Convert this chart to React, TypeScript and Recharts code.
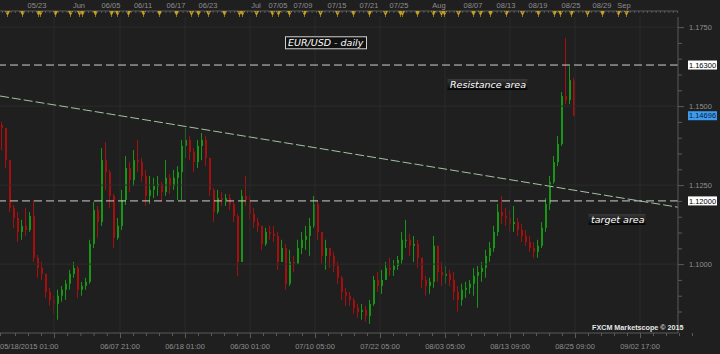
import React from 'react';
import { ComposedChart, Bar, XAxis, YAxis, ReferenceLine, ReferenceDot } from 'recharts';

// EUR/USD candles 05/18 -> 08/25/2015 (one candle per ~4px)
const highs = [
  1.1450, 1.1431, 1.1329, 1.1187, 1.1165, 1.1140, 1.1178, 1.1165, 1.1203, 1.1029,
  1.1007, 1.0969, 1.0925, 1.0900, 1.0919, 1.0931, 1.0950, 1.0982, 1.1007, 1.0994,
  1.0944, 1.0957, 1.1077, 1.1197, 1.1184, 1.1367, 1.1386, 1.1298, 1.1222, 1.1146,
  1.1235, 1.1342, 1.1323, 1.1361, 1.1393, 1.1336, 1.1298, 1.1279, 1.1273, 1.1279,
  1.1260, 1.1329, 1.1285, 1.1298, 1.1310, 1.1393, 1.1431, 1.1405, 1.1367, 1.1393,
  1.1415, 1.1405, 1.1336, 1.1241, 1.1235, 1.1228, 1.1222, 1.1222, 1.1197, 1.1159,
  1.1235, 1.1279, 1.1216, 1.1178, 1.1146, 1.1121, 1.1115, 1.1121, 1.1121, 1.1102,
  1.1077, 1.1064, 1.1045, 1.1026, 1.1077, 1.1102, 1.1121, 1.1146, 1.1216, 1.1203,
  1.1102, 1.1077, 1.1051, 1.1039, 1.1007, 1.0963, 1.0925, 1.0912, 1.0893, 1.0874,
  1.0874, 1.0868, 1.0887, 1.0963, 1.0975, 1.0982, 1.1007, 1.1020, 1.1013, 1.1026,
  1.1102, 1.1140, 1.1096, 1.1089, 1.1077, 1.1020, 1.0963, 1.0957, 1.1089, 1.1058,
  1.1007, 1.0994, 1.0982, 1.0975, 1.0931, 1.0938, 1.0944, 1.0950, 1.0988, 1.0994,
  1.1007, 1.1045, 1.1070, 1.1121, 1.1190, 1.1216, 1.1178, 1.1171, 1.1184, 1.1146,
  1.1127, 1.1108, 1.1089, 1.1070, 1.1077, 1.1133, 1.1209, 1.1279, 1.1342, 1.1405,
  1.1544, 1.1715, 1.1626, 1.1589,
];
const lows = [
  1.1361, 1.1304, 1.1165, 1.1115, 1.1070, 1.1077, 1.1089, 1.1102, 1.1007, 1.0957,
  1.0950, 1.0893, 1.0868, 1.0843, 1.0824, 1.0881, 1.0887, 1.0919, 1.0957, 1.0893,
  1.0900, 1.0919, 1.0938, 1.1051, 1.1083, 1.1121, 1.1235, 1.1178, 1.1051, 1.1077,
  1.1108, 1.1187, 1.1228, 1.1247, 1.1291, 1.1260, 1.1184, 1.1190, 1.1209, 1.1216,
  1.1197, 1.1216, 1.1222, 1.1235, 1.1203, 1.1203, 1.1336, 1.1329, 1.1291, 1.1304,
  1.1329, 1.1310, 1.1216, 1.1133, 1.1159, 1.1184, 1.1184, 1.1171, 1.1133, 1.0963,
  1.1007, 1.1184, 1.1140, 1.1115, 1.1102, 1.1045, 1.1058, 1.1077, 1.1070, 1.0982,
  1.1007, 1.0919, 1.0931, 1.0975, 1.1007, 1.1032, 1.1045, 1.1026, 1.1115, 1.1077,
  1.1001, 1.0982, 1.0988, 1.0975, 1.0938, 1.0887, 1.0868, 1.0868, 1.0843, 1.0830,
  1.0824, 1.0818, 1.0811, 1.0868, 1.0912, 1.0906, 1.0950, 1.0963, 1.0963, 1.0982,
  1.1001, 1.1051, 1.1026, 1.1007, 1.0988, 1.0925, 1.0900, 1.0906, 1.0925, 1.0944,
  1.0931, 1.0938, 1.0931, 1.0887, 1.0849, 1.0868, 1.0893, 1.0906, 1.0900, 1.0862,
  1.0944, 1.0957, 1.1007, 1.1039, 1.1089, 1.1127, 1.1121, 1.1102, 1.1102, 1.1089,
  1.1070, 1.1058, 1.1039, 1.1020, 1.1020, 1.1051, 1.1102, 1.1171, 1.1254, 1.1310,
  1.1374, 1.1506, 1.1506, 1.1468,
];
const closes = [
  1.1431, 1.1329, 1.1178, 1.1146, 1.1102, 1.1121, 1.1108, 1.1152, 1.1020, 1.0988,
  1.0969, 1.0912, 1.0887, 1.0874, 1.0900, 1.0919, 1.0938, 1.0969, 1.0988, 1.0919,
  1.0931, 1.0944, 1.1064, 1.1171, 1.1133, 1.1329, 1.1291, 1.1216, 1.1083, 1.1121,
  1.1203, 1.1304, 1.1266, 1.1329, 1.1323, 1.1279, 1.1216, 1.1235, 1.1247, 1.1254,
  1.1228, 1.1273, 1.1247, 1.1273, 1.1291, 1.1374, 1.1393, 1.1355, 1.1323, 1.1374,
  1.1393, 1.1336, 1.1235, 1.1165, 1.1209, 1.1203, 1.1209, 1.1190, 1.1152, 1.1007,
  1.1216, 1.1203, 1.1159, 1.1133, 1.1121, 1.1064, 1.1102, 1.1096, 1.1089, 1.1007,
  1.1051, 1.0938, 1.1007, 1.1001, 1.1051, 1.1077, 1.1089, 1.1121, 1.1190, 1.1102,
  1.1026, 1.1051, 1.1026, 1.0994, 1.0957, 1.0912, 1.0900, 1.0887, 1.0862, 1.0849,
  1.0855, 1.0836, 1.0874, 1.0950, 1.0931, 1.0950, 1.0988, 1.0982, 1.0994, 1.1013,
  1.1077, 1.1077, 1.1058, 1.1064, 1.1020, 1.0950, 1.0931, 1.0944, 1.1058, 1.0975,
  1.0963, 1.0969, 1.0950, 1.0912, 1.0887, 1.0919, 1.0925, 1.0938, 1.0963, 1.0975,
  1.0988, 1.1026, 1.1051, 1.1102, 1.1165, 1.1152, 1.1146, 1.1127, 1.1133, 1.1108,
  1.1089, 1.1070, 1.1051, 1.1039, 1.1058, 1.1115, 1.1190, 1.1260, 1.1323, 1.1380,
  1.1532, 1.1519, 1.1582, 1.14696,
];
const firstOpen = 1.1440;

const resistance = 1.163;
const target = 1.12;
const trendStart = { x: -0.5, y: 1.1532 };
const trendEnd = { x: 169, y: 1.1180 };

// x axis runs on candle index
const topLabels = ['05/23', 'Jun', '06/05', '06/11', '06/17', '06/23', 'Jul', '07/05', '07/09', '07/15',
  '07/21', '07/25', 'Aug', '08/07', '08/13', '08/19', '08/25', '08/29', 'Sep'];
const topLabelPos = [8.75, 19.25, 27.25, 35.25, 43.5, 51.5, 63.5, 69, 75.25, 83.75,
  91.75, 99.25, 109.25, 117.75, 126, 134, 142.25, 150, 155.5];
const eventMarks = [1.25, 5, 9, 9.6, 13.25, 17, 19.25, 19.9, 23.25, 27.25, 28.75, 31.5, 35.25, 39.25, 43.5,
  47.25, 49, 51.5, 55.5, 59.25, 59.9, 63.5, 67.5, 69, 71.75, 75.5, 79.5, 83.75, 87.75, 91.75, 95.75,
  99.5, 100.1, 103.75, 107.75, 109.75, 110.4, 114, 117.75, 119.5, 122, 126, 130, 134, 138, 139.5,
  142.25, 146.25, 150, 154, 156];
const bottomLabels = ['05/18/2015 01:00', '06/07 21:00', '06/18 01:00', '06/30 01:00', '07/10 05:00',
  '07/22 05:00', '08/03 05:00', '08/13 09:00', '08/25 09:00', '09/02 17:00'];
const bottomLabelPos = [-0.5, 29.5, 45.75, 62, 78.25, 94.5, 110.75, 127, 143.25, 159.5];
const gridX = [13, 29.5, 45.75, 62, 78.25, 94.5, 110.75, 127, 143.25, 159.5];
const gridY = [1.1, 1.125, 1.15, 1.175];
const yTicks = [1.08, 1.085, 1.09, 1.095, 1.1, 1.105, 1.11, 1.115, 1.12, 1.125, 1.13, 1.135,
  1.14, 1.145, 1.15, 1.155, 1.16, 1.165, 1.17, 1.175];

const X_DOMAIN: [number, number] = [-0.5, 169];
const Y_DOMAIN: [number, number] = [1.0782, 1.1782];

const BG = '#1f1f1f';
const GRID = '#2b2b2b';
const AXIS = '#5a5a5a';
const LABEL = '#8e8e8e';
const GREEN = '#169816';
const RED = '#a80e0e';
const FONT = '"Liberation Sans", Arial, sans-serif';

const candles = closes.map((c, i) => ({
  i,
  open: i === 0 ? firstOpen : closes[i - 1],
  close: c,
  high: highs[i],
  low: lows[i],
  range: [lows[i], highs[i]],
}));

// ruler ticks (decoration only)
const bottomRuler: number[] = [-0.5];
gridX.forEach((g, k) => {
  bottomRuler.push(g);
  const next = gridX[k + 1] ?? g + 16.25;
  for (let j = 1; j < 5; j++) bottomRuler.push(g + (j * (next - g)) / 5);
});
for (let j = 1; j < 4; j++) bottomRuler.push(gridX[0] - j * 3.25);
const topRuler: number[] = [];
for (let v = 0; v < 169; v += 1.075) topRuler.push(v);

function Candle(props: any) {
  const { x, y, width, height, payload } = props;
  if (x == null || y == null) return null;
  const { open, close, high, low } = payload;
  const top = Math.min(y, y + height);
  const h = Math.abs(height);
  const k = high - low > 0 ? h / (high - low) : 0;
  const py = (v: number) => top + (high - v) * k;
  const up = close >= open;
  const color = up ? GREEN : RED;
  const cx = Math.floor(x + width / 2);
  const b0 = py(Math.max(open, close));
  const b1 = py(Math.min(open, close));
  return (
    <g>
      <line x1={cx + 0.5} x2={cx + 0.5} y1={Math.min(top, b0)} y2={Math.max(top + h, b1)} stroke={color} strokeWidth={1} />
      <rect x={cx} y={b0} width={2} height={Math.max(1, b1 - b0)} fill={color} />
    </g>
  );
}

function TopTick(props: any) {
  const { x, y, payload } = props;
  const li = topLabelPos.indexOf(payload.value);
  if (li >= 0) {
    return (
      <text x={x} y={y - 3.5} textAnchor="middle" fill={LABEL} fontSize={7.5} fontFamily={FONT}>
        {topLabels[li]}
      </text>
    );
  }
  return <line x1={x + 0.5} x2={x + 0.5} y1={y} y2={y + 2} stroke={AXIS} />;
}

function MarkTick(props: any) {
  const { x, y } = props;
  const cx = Math.round(x) + 0.5;
  return (
    <g>
      <path d={`M${cx - 2.5},${y - 6} L${cx + 2.5},${y - 6} L${cx},${y - 1} Z`} fill="#c9a21c" />
      <line x1={cx} x2={cx} y1={y - 2} y2={y} stroke="#8c7414" />
    </g>
  );
}

function BottomTick(props: any) {
  const { x, y, payload } = props;
  const v = payload.value;
  const li = bottomLabelPos.indexOf(v);
  const major = gridX.indexOf(v) >= 0;
  return (
    <g>
      <line x1={x + 0.5} x2={x + 0.5} y1={y} y2={y + (major ? 5 : 3)} stroke={AXIS} />
      {li >= 0 && (
        <text x={x} y={y + 16} textAnchor={li === 0 ? 'start' : 'middle'} fill={LABEL} fontSize={7.5} fontFamily={FONT}>
          {bottomLabels[li]}
        </text>
      )}
    </g>
  );
}

function PriceAxisTick(props: any) {
  const { x, y, payload } = props;
  const v = payload.value;
  const major = gridY.some((t) => Math.abs(t - v) < 1e-9);
  return (
    <g>
      <line x1={x} x2={x + (major ? 6 : 4)} y1={y + 0.5} y2={y + 0.5} stroke={AXIS} />
      {major && (
        <text x={x + 11} y={y + 2.7} fill={LABEL} fontSize={7.5} fontFamily={FONT}>
          {v.toFixed(4)}
        </text>
      )}
    </g>
  );
}

function priceTag(text: string, fill: string, color: string) {
  return (p: any) => {
    const vb = p.viewBox || {};
    const x = (vb.x ?? 0) + (vb.width ?? 0) + 10;
    const y = vb.y ?? 0;
    return (
      <g>
        <rect x={x} y={y - 4.5} width={29} height={9} fill={fill} />
        <text x={x + 14.5} y={y + 2.6} textAnchor="middle" fill={color} fontSize={7.5} fontFamily={FONT}>
          {text}
        </text>
      </g>
    );
  };
}

function noteBox(text: string, w: number, h: number, framed: boolean) {
  return (p: any) => {
    const { cx, cy } = p;
    return (
      <g>
        <defs>
          <linearGradient id={`ng-${w}`} x1="0" y1="0" x2="0" y2="1">
            <stop offset="0%" stopColor="#3a3a3a" />
            <stop offset="100%" stopColor="#050505" />
          </linearGradient>
        </defs>
        <rect x={cx + 0.5} y={cy - h / 2 + 0.5} width={w} height={h}
          fill={framed ? '#111111' : `url(#ng-${w})`} stroke={framed ? '#d0d0d0' : 'none'} />
        <text x={cx + 3} y={cy + 4} fill="#ffffff" fontSize={9.5} fontStyle="italic" fontFamily='"DejaVu Sans", sans-serif'>
          {text}
        </text>
      </g>
    );
  };
}

export default function App() {
  const last = closes[closes.length - 1];
  return (
    <div style={{ position: 'absolute', left: 0, top: 0, width: 720, height: 354, background: BG, overflow: 'hidden' }}>
      <ComposedChart width={720} height={354} data={candles} margin={{ top: 0, right: 0, bottom: 0, left: 0 }}>
        <XAxis xAxisId="marks" dataKey="i" orientation="top" type="number" domain={X_DOMAIN} allowDataOverflow
          ticks={eventMarks} interval={0} height={6} tickSize={0} tickMargin={0} axisLine={false} tickLine={false} tick={<MarkTick />} />
        <XAxis xAxisId="top" dataKey="i" orientation="top" type="number" domain={X_DOMAIN} allowDataOverflow
          ticks={[...topLabelPos, ...topRuler]} interval={0} height={11} tickSize={0} tickMargin={0}
          axisLine={{ stroke: AXIS }} tickLine={false} tick={<TopTick />} />
        <XAxis dataKey="i" type="number" domain={X_DOMAIN} allowDataOverflow ticks={bottomRuler} interval={0}
          height={21} tickSize={0} tickMargin={0} axisLine={{ stroke: AXIS }} tickLine={false} tick={<BottomTick />} />
        <YAxis orientation="right" type="number" domain={Y_DOMAIN} allowDataOverflow ticks={yTicks} interval={0}
          width={42} tickSize={0} tickMargin={0} axisLine={{ stroke: AXIS }} tickLine={false} tick={<PriceAxisTick />} />

        {gridX.map((g) => (
          <ReferenceLine key={`gx${g}`} x={g} stroke={GRID} strokeWidth={1} />
        ))}
        {gridY.map((g) => (
          <ReferenceLine key={`gy${g}`} y={g} stroke={GRID} strokeWidth={1} />
        ))}

        <Bar dataKey="range" barSize={3} shape={<Candle />} isAnimationActive={false} />

        <ReferenceLine segment={[trendStart, trendEnd]} ifOverflow="visible" stroke="#a3c2a3" strokeDasharray="9 3" />
        <ReferenceLine y={resistance} stroke="#cfcfcf" strokeDasharray="8 4" label={priceTag(resistance.toFixed(5), '#ffffff', '#000000')} />
        <ReferenceLine y={target} stroke="#cfcfcf" strokeDasharray="8 4" label={priceTag(target.toFixed(5), '#ffffff', '#000000')} />
        <ReferenceLine y={last} stroke="none" label={priceTag(last.toFixed(5), '#3d9cf0', '#0a1a33')} />

        <ReferenceDot x={70.75} y={1.1702} r={0} ifOverflow="visible" shape={noteBox('EUR/USD - daily', 81, 12, true)} />
        <ReferenceDot x={111.25} y={1.1570} r={0} ifOverflow="visible" shape={noteBox('Resistance area', 80, 11, false)} />
        <ReferenceDot x={146.5} y={1.1143} r={0} ifOverflow="visible" shape={noteBox('target area', 57, 11, false)} />
      </ComposedChart>
      <div style={{ position: 'absolute', left: 592, top: 323, color: '#e6e6e6', font: `bold 7.2px ${FONT}`, whiteSpace: 'nowrap' }}>
        FXCM Marketscope © 2015
      </div>
    </div>
  );
}
